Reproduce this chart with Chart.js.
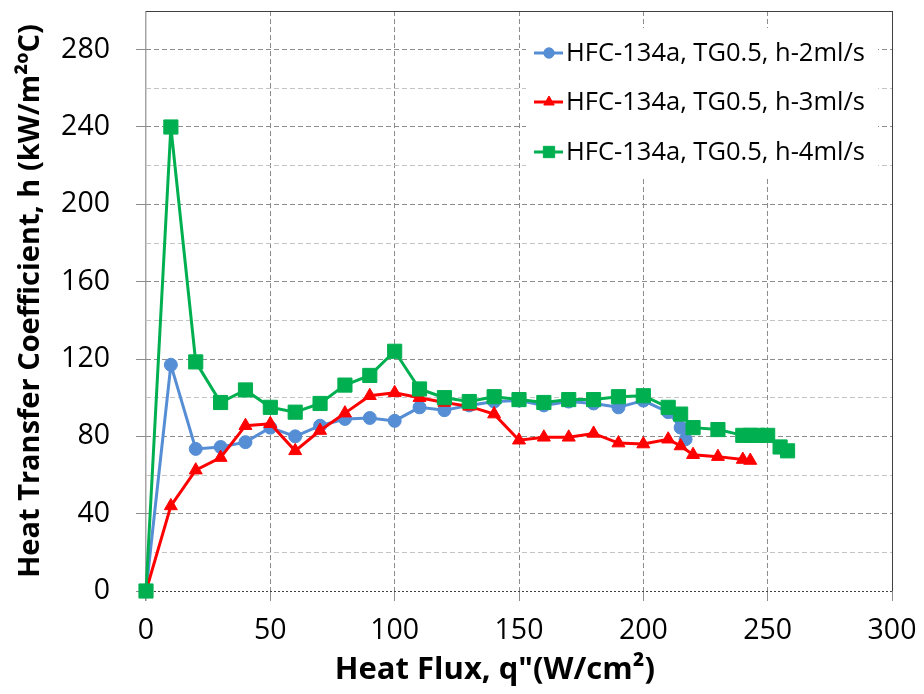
<!DOCTYPE html>
<html>
<head>
<meta charset="utf-8">
<script src="https://cdn.jsdelivr.net/npm/chart.js@4.4.1/dist/chart.umd.min.js"></script>
<style>
    html, body { margin: 0; padding: 0; background: #fff; }
</style>
</head>
<body>
<canvas id="flux" width="924" height="694"></canvas>
<script>
// heat flux q" (W/cm2) and heat transfer coefficient h (kW/m2 C) per flow rate
const q2 = [0, 10, 20, 30, 40, 50, 60, 70, 80, 90, 100, 110, 120, 130, 140, 150, 160, 170, 180, 190, 200, 210, 215, 217]
const h2 = [0, 117, 73.5, 74.5, 77, 84.5, 80, 85.5, 89, 89.5, 88, 95, 93.5, 96, 98, 98.5, 96, 98, 97, 95, 98.5, 92.5, 84.5, 78.5]

const q3 = [0, 10, 20, 30, 40, 50, 60, 70, 80, 90, 100, 110, 120, 130, 140, 150, 160, 170, 180, 190, 200, 210, 215, 220, 230, 240, 243]
const h3 = [0, 44, 62.5, 69, 85.5, 86.5, 72.5, 83, 92, 101, 102.5, 100, 97.5, 95.5, 91.5, 78, 79.5, 79.5, 81.5, 76.5, 76, 78.5, 75, 70.5, 69.5, 68, 67.5]

const q4 = [0, 10, 20, 30, 40, 50, 60, 70, 80, 90, 100, 110, 120, 130, 140, 150, 160, 170, 180, 190, 200, 210, 215, 220, 230, 240, 243, 246, 250, 255, 258]
const h4 = [0, 240, 118.5, 97.5, 104, 95, 92.5, 97, 106.5, 111.5, 124, 104.5, 100, 98, 100.5, 99, 97.5, 99, 99, 100.5, 101, 95, 91.5, 84.5, 83.5, 80.5, 80.5, 80.5, 80.5, 74.5, 72.5]

const seriesNames = ['HFC-134a, TG0.5, h-2ml/s', 'HFC-134a, TG0.5, h-3ml/s', 'HFC-134a, TG0.5, h-4ml/s']
const xTicks = [0, 50, 100, 150, 200, 250, 300]
const yLabelStep = 40

const pts = (xs, ys) => xs.map((x, i) => ({ x: x, y: ys[i] }))

const series = (label, data, color, style, radius, order) => ({
    label: label,
    data: data,
    borderColor: color,
    backgroundColor: color,
    borderWidth: 3,
    pointStyle: style,
    pointRadius: radius,
    pointHoverRadius: radius,
    pointBorderWidth: 1,
    pointBackgroundColor: color,
    pointBorderColor: color,
    tension: 0,
    clip: false,
    order: order,
})

const datasets = [
    series(seriesNames[0], pts(q2, h2), '#558ED5', 'circle', 6.5, 3),
    series(seriesNames[1], pts(q3, h3), '#FF0000', 'triangle', 7.5, 2),
    series(seriesNames[2], pts(q4, h4), '#00B050', 'rect', 10, 1),
]

// legend box inside the plot, top right, like the excel one
const insideLegend = {
    id: 'insideLegend',
    afterDraw(chart) {
        const ctx = chart.ctx
        const area = chart.chartArea
        const left = area.right - 362
        const rows = [53, 102, 152]
        ctx.save()
        ctx.fillStyle = '#fff'
        ctx.fillRect(left - 4, 28, 352, 150)
        ctx.font = '25.5px "Open Sans"'
        ctx.textBaseline = 'middle'
        chart.data.datasets.forEach((ds, i) => {
            const y = rows[i]
            ctx.strokeStyle = ds.borderColor
            ctx.fillStyle = ds.backgroundColor
            ctx.lineWidth = 3
            ctx.beginPath()
            ctx.moveTo(left + 4, y)
            ctx.lineTo(left + 33, y)
            ctx.stroke()
            ctx.lineWidth = 1
            Chart.helpers.drawPoint(ctx, {
                pointStyle: ds.pointStyle,
                radius: ds.pointRadius * 0.8,
                borderWidth: 1,
                rotation: 0,
            }, left + 19, y)
            ctx.fillStyle = '#000'
            ctx.fillText(ds.label, left + 36, y + 1)
        })
        ctx.restore()
    },
}

new Chart(document.getElementById('flux'), {
    type: 'line',
    data: { datasets: datasets },
    plugins: [insideLegend],
    options: {
        responsive: false,
        animation: false,
        layout: { padding: { top: 9, right: 32, left: 0, bottom: 0 } },
        plugins: {
            legend: { display: false },
            tooltip: { enabled: false },
        },
        scales: {
            x: {
                type: 'linear',
                min: 0,
                max: 300,
                afterBuildTicks: (scale) => {
                    scale.ticks = xTicks.map((v) => ({ value: v }))
                },
                afterFit: (scale) => {
                    scale.height = 103
                    scale.paddingLeft = 0
                    scale.paddingRight = 0
                },
                ticks: {
                    color: '#000',
                    font: { family: 'Open Sans', size: 28.5 },
                    padding: 13,
                    maxRotation: 0,
                    autoSkip: false,
                },
                grid: {
                    color: (c) => (c.tick.value === 300 ? '#404040' : c.tick.value === 0 ? '#a6a6a6' : '#8c8c8c'),
                    lineWidth: (c) => (c.tick.value === 0 ? 1.5 : 1),
                    tickColor: '#8c8c8c',
                    tickLength: 10,
                },
                border: {
                    display: false,
                    dash: (c) => (c.tick && (c.tick.value === 0 || c.tick.value === 300) ? [] : [5, 3]),
                },
                title: {
                    display: true,
                    // trailing spaces shift the centred title left, as in the excel original
                    text: 'Heat Flux, q"(W/cm²)      ',
                    color: '#000',
                    font: { family: 'Open Sans', size: 31, weight: 'bold' },
                    padding: { top: 0, bottom: 5 },
                },
            },
            y: {
                min: 0,
                max: 300,
                afterFit: (scale) => {
                    scale.width = 146
                    scale.paddingTop = 0
                    scale.paddingBottom = 0
                },
                ticks: {
                    stepSize: 20,
                    autoSkip: false,
                    color: '#000',
                    font: { family: 'Open Sans', size: 28.5 },
                    padding: 26,
                    callback: (v) => (v % yLabelStep === 0 ? v : ''),
                },
                grid: {
                    color: (c) => {
                        const v = c.tick.value
                        if (v === 0 || v === 300) return '#404040'
                        return v % yLabelStep === 0 ? '#8c8c8c' : '#c4c4c4'
                    },
                    tickColor: (c) => (c.tick.value % yLabelStep === 0 ? '#8c8c8c' : 'rgba(0,0,0,0)'),
                    tickLength: 10,
                },
                border: {
                    display: false,
                    dash: (c) => {
                        if (!c.tick) return [5, 3]
                        if (c.tick.value === 0) return [2, 2]
                        if (c.tick.value === 300) return []
                        return [5, 3]
                    },
                },
                title: {
                    display: true,
                    text: 'Heat Transfer Coefficient, h (kW/m²ºC)',
                    color: '#000',
                    font: { family: 'Open Sans', size: 29, weight: 'bold' },
                    padding: { top: 13, bottom: 0 },
                },
            },
        },
    },
})
</script>
</body>
</html>
